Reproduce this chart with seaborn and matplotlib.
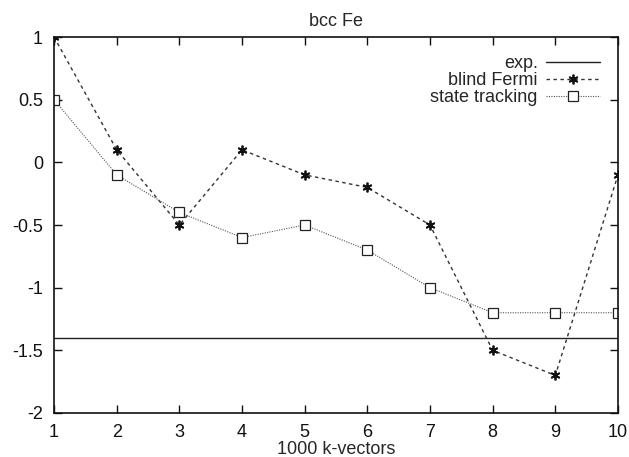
import matplotlib
matplotlib.use("Agg")
import matplotlib.pyplot as plt
import seaborn as sns
import pandas as pd

kvec = [1, 2, 3, 4, 5, 6, 7, 8, 9, 10]
blind_fermi = [1.0, 0.1, -0.5, 0.1, -0.1, -0.2, -0.5, -1.5, -1.7, -0.1]
state_tracking = [0.5, -0.1, -0.4, -0.6, -0.5, -0.7, -1.0, -1.2, -1.2, -1.2]
exp_value = -1.4
yticks = [-2, -1.5, -1, -0.5, 0, 0.5, 1]
ytick_labels = ["-2", "-1.5", "-1", "-0.5", "0", "0.5", "1"]

sns.set_theme(style="ticks")
plt.rcParams['font.family'] = ['Liberation Sans', 'DejaVu Sans']

fig = plt.figure(figsize=(6.29, 4.57), dpi=100)
ax = fig.add_axes([0.0859, 0.0963, 0.8966, 0.8227])

df_exp = pd.DataFrame({"x": [1, 10], "y": [exp_value, exp_value]})
df_bf = pd.DataFrame({"x": kvec, "y": blind_fermi})
df_st = pd.DataFrame({"x": kvec, "y": state_tracking})

sns.lineplot(data=df_exp, x="x", y="y", ax=ax, color="#222222", lw=1.0, label="exp.")
sns.lineplot(data=df_bf, x="x", y="y", ax=ax, color="#333333", lw=1.0,
             linestyle=(0, (2.5, 2.5)), marker=(6, 2, 0), markersize=7,
             markeredgewidth=1.3, markeredgecolor="#111111", label="blind Fermi")
sns.lineplot(data=df_st, x="x", y="y", ax=ax, color="#555555", lw=0.8,
             linestyle=(0, (1, 1.2)), marker="s", markersize=6.5, markerfacecolor="white",
             markeredgewidth=0.9, markeredgecolor="#222222", label="state tracking")

ax.set_xlim(1, 10)
ax.set_ylim(-2, 1)
ax.set_xticks(kvec)
ax.set_xticklabels([str(k) for k in kvec])
ax.set_yticks(yticks)
ax.set_yticklabels(ytick_labels)
ax.tick_params(direction="in", top=True, right=True, length=6, width=1.0,
               labelsize=13, colors="#111111", pad=8)
for s in ax.spines.values():
    s.set_linewidth(1.2)
    s.set_color("#111111")
ax.set_xlabel("1000 k-vectors", fontsize=13, labelpad=0)
ax.set_ylabel("")
ax.set_title("bcc Fe", fontsize=13, pad=8)

leg = ax.legend(loc="upper right", frameon=False, fontsize=13, markerfirst=False,
                handlelength=3.0, borderaxespad=0.7, borderpad=0.3,
                labelspacing=0.0, handletextpad=0.45)

fig.savefig("out.png", dpi=100)
